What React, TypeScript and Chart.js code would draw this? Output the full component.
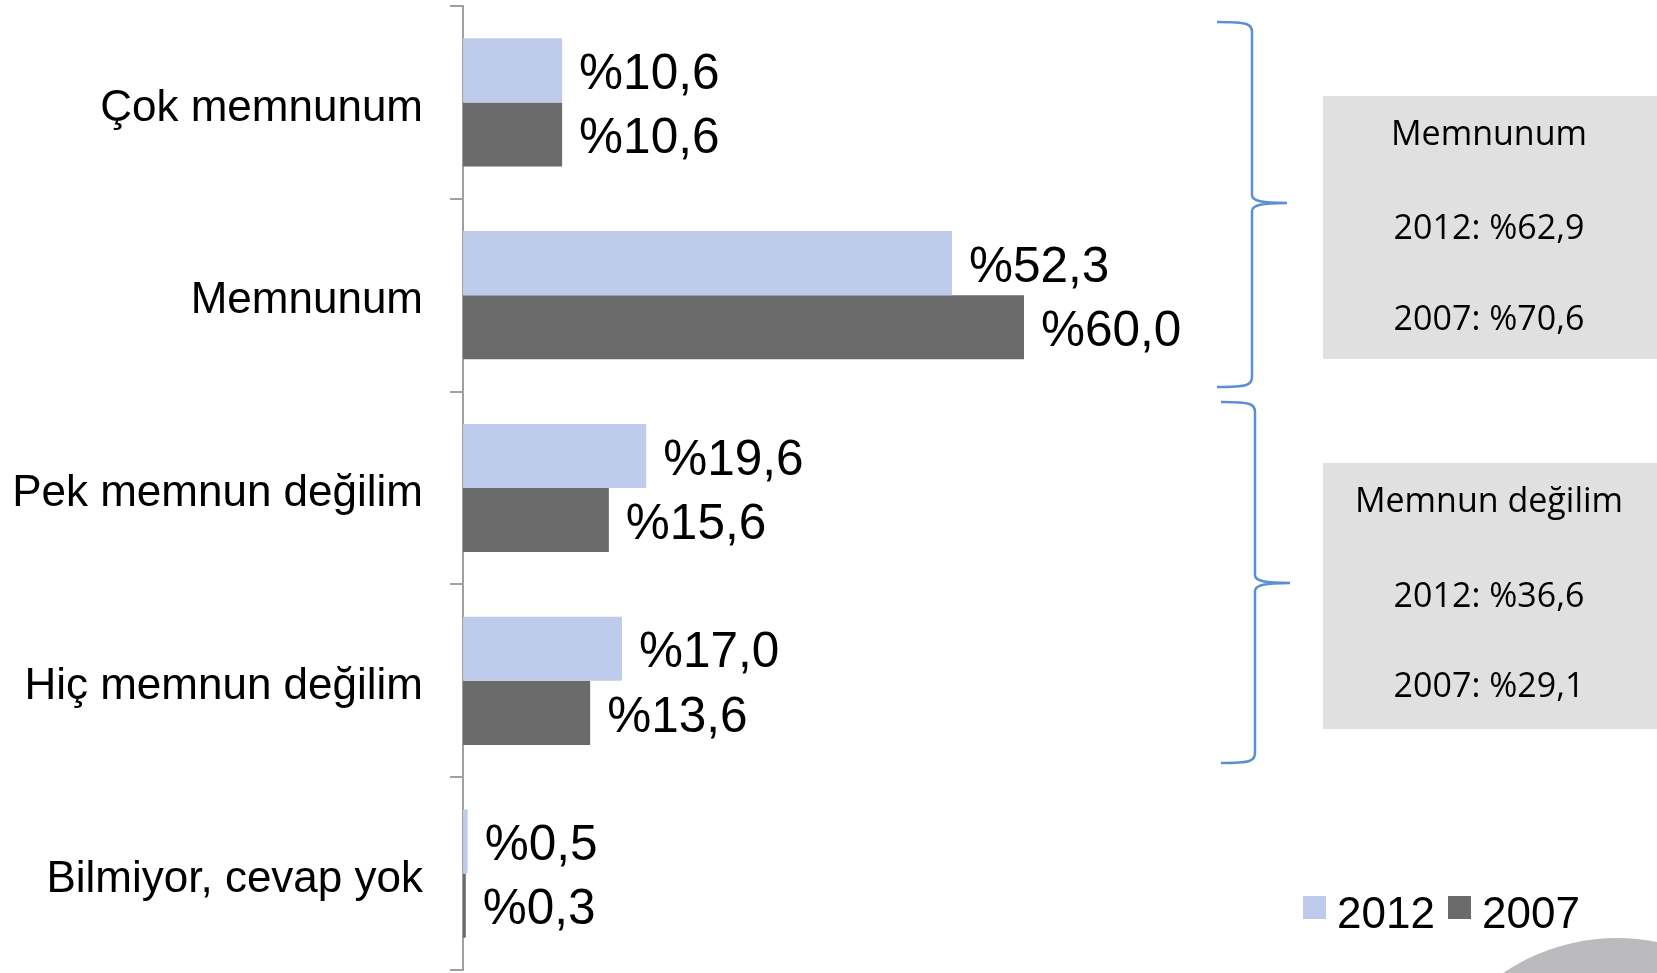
import React, { useEffect, useRef } from "react";
import { Chart, registerables } from "chart.js";

Chart.register(...registerables);

const categories = ["Çok memnunum", "Memnunum", "Pek memnun değilim", "Hiç memnun değilim", "Bilmiyor, cevap yok"];
const values2012 = [10.6, 52.3, 19.6, 17.0, 0.5];
const values2007 = [10.6, 60.0, 15.6, 13.6, 0.3];
const seriesLabels = ["2012", "2007"];
const seriesColors = ["#BECBEA", "#6B6B6B"];
const groupTitles = ["Memnunum", "Memnun değilim"];
const groupTotals2012 = [62.9, 36.6];
const groupTotals2007 = [70.6, 29.1];

const fmt = (v: number) => "%" + v.toFixed(1).replace(".", ",");

const ARIAL = "'Liberation Sans', Arial, sans-serif";
const SANS = "'Open Sans', 'Noto Sans', sans-serif";

function drawBrace(ctx: CanvasRenderingContext2D, xL: number, xV: number, yT: number, yM: number, yB: number, xTip: number) {
  ctx.beginPath();
  ctx.moveTo(xL, yT);
  ctx.bezierCurveTo(xV - 4, yT, xV, yT + 2, xV, yT + 10);
  ctx.lineTo(xV, yM - 8);
  ctx.bezierCurveTo(xV, yM - 2, xV + 10, yM, xTip, yM);
  ctx.moveTo(xTip, yM);
  ctx.bezierCurveTo(xV + 10, yM, xV, yM + 2, xV, yM + 8);
  ctx.lineTo(xV, yB - 10);
  ctx.bezierCurveTo(xV, yB - 2, xV - 4, yB, xL, yB);
  ctx.stroke();
}

const overlayPlugin = {
  id: "overlay",
  beforeDraw(chart: any) {
    const ctx = chart.ctx as CanvasRenderingContext2D;
    ctx.save();
    ctx.fillStyle = "#BBBBBD";
    ctx.beginPath();
    ctx.arc(1617, 1141, 203, 0, Math.PI * 2);
    ctx.fill();
    ctx.restore();
  },
  afterDatasetsDraw(chart: any) {
    const ctx = chart.ctx as CanvasRenderingContext2D;
    ctx.save();
    ctx.font = `49.5px ${ARIAL}`;
    ctx.fillStyle = "#000";
    ctx.textAlign = "left";
    ctx.textBaseline = "middle";
    chart.data.datasets.forEach((ds: any, di: number) => {
      const meta = chart.getDatasetMeta(di);
      meta.data.forEach((bar: any, i: number) => {
        ctx.fillText(fmt(ds.data[i]), bar.x + 17, bar.y + 5);
      });
    });

    ctx.strokeStyle = "#5B8FD4";
    ctx.lineWidth = 2.5;
    drawBrace(ctx, 1217, 1252, 22, 203, 387, 1287);
    drawBrace(ctx, 1221, 1255, 402, 583, 763, 1290);

    const boxes = [
      { x: 1323, y: 96, w: 334, h: 263, ys: [135, 229, 320] },
      { x: 1323, y: 463, w: 334, h: 266, ys: [502, 597, 687] },
    ];
    boxes.forEach((b, i) => {
      ctx.fillStyle = "#E0E0E0";
      ctx.fillRect(b.x, b.y, b.w, b.h);
      ctx.fillStyle = "#000";
      ctx.font = `34px ${SANS}`;
      ctx.textAlign = "center";
      ctx.textBaseline = "middle";
      const cx = 1489;
      ctx.fillText(groupTitles[i], cx, b.ys[0]);
      ctx.fillText(`${seriesLabels[0]}: ${fmt(groupTotals2012[i])}`, cx, b.ys[1]);
      ctx.fillText(`${seriesLabels[1]}: ${fmt(groupTotals2007[i])}`, cx, b.ys[2]);
    });

    const legendX = [1303, 1448];
    ctx.font = `44px ${ARIAL}`;
    ctx.textAlign = "left";
    ctx.textBaseline = "alphabetic";
    seriesLabels.forEach((lab, i) => {
      ctx.fillStyle = seriesColors[i];
      ctx.fillRect(legendX[i], 896, 23, 23);
      ctx.fillStyle = "#000";
      ctx.fillText(lab, legendX[i] + 34, 928);
    });
    ctx.restore();
  },
};

export default function App() {
  const ref = useRef<HTMLCanvasElement | null>(null);
  useEffect(() => {
    document.body.style.margin = "0";
    document.body.style.overflow = "hidden";
    if (!ref.current) return;
    const chart = new Chart(ref.current, {
      type: "bar",
      data: {
        labels: categories,
        datasets: [
          { label: seriesLabels[0], data: values2012, backgroundColor: seriesColors[0], categoryPercentage: 0.665, barPercentage: 1 },
          { label: seriesLabels[1], data: values2007, backgroundColor: seriesColors[1], categoryPercentage: 0.665, barPercentage: 1 },
        ],
      },
      options: {
        indexAxis: "y",
        responsive: true,
        maintainAspectRatio: false,
        animation: false,
        layout: { padding: { top: 6, bottom: 3, left: 0, right: 259 } },
        plugins: { legend: { display: false }, tooltip: { enabled: false } },
        scales: {
          x: { display: false, min: 0, max: 100 },
          y: {
            afterFit: (scale: any) => {
              scale.width = 463;
              scale.paddingTop = 0;
              scale.paddingBottom = 0;
            },
            grid: { drawOnChartArea: false, tickLength: 13, color: "#A0A0A0", lineWidth: 2 },
            border: { color: "#A0A0A0", width: 2 },
            ticks: { font: { family: ARIAL, size: 44 }, color: "#000", padding: 27, labelOffset: 6 },
          },
        },
      },
      plugins: [overlayPlugin],
    });
    return () => chart.destroy();
  }, []);
  return (
    <div style={{ width: 1657, height: 973, position: "relative", background: "#fff" }}>
      <canvas ref={ref} />
    </div>
  );
}
